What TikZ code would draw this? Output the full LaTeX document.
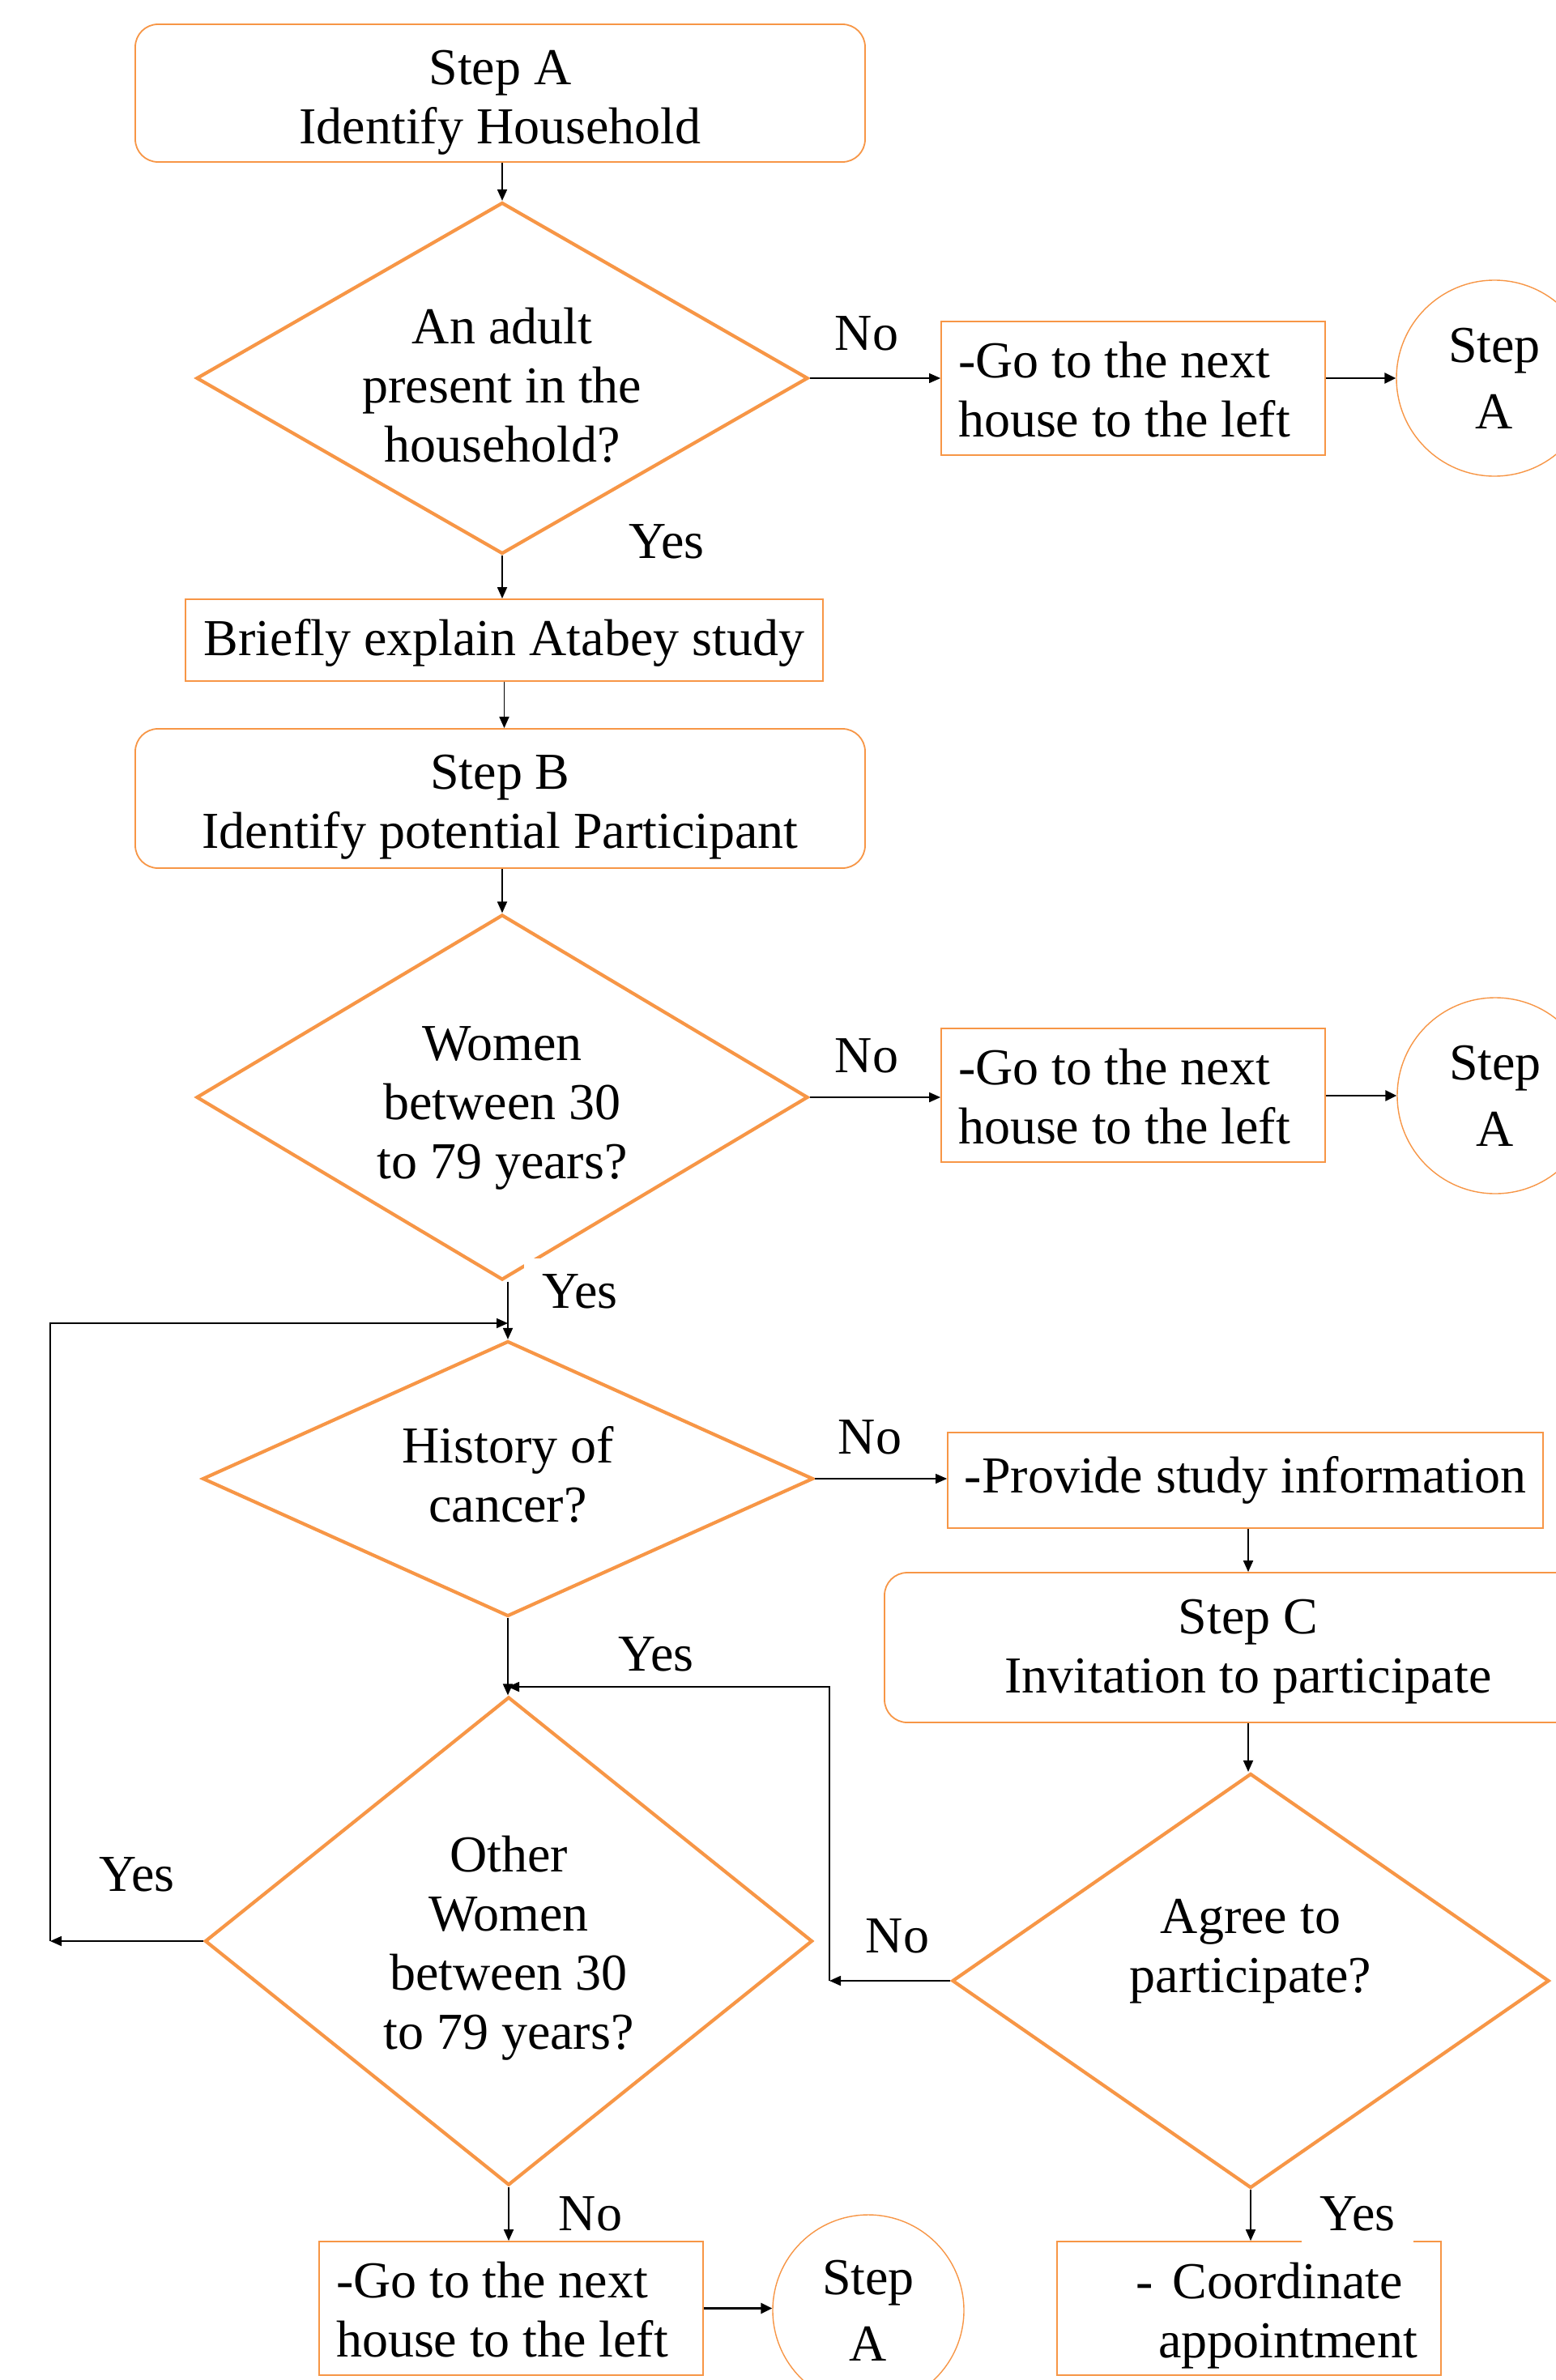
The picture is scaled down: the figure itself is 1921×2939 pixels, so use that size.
\documentclass[tikz,border=0pt]{standalone}
\usepackage{fontspec}
\setmainfont{Liberation Serif}
\usetikzlibrary{shapes.geometric,arrows.meta}
\definecolor{org}{HTML}{F79646}
\newlength{\gospace}
\setlength{\gospace}{7.9pt}
\newcommand{\topst}[1]{\rule{0pt}{#1}}
\newcommand{\botst}[1]{\rule[-#1]{0pt}{#1}}
\tikzset{
  txt/.style={font=\fontsize{32}{36.5}\selectfont, align=center},
  rbox/.style={txt, draw=org, line width=0.9pt, rounded corners=14pt, inner sep=0pt},
  sbox/.style={txt, draw=org, line width=0.9pt, inner sep=0pt},
  gobox/.style={sbox, align=left, text width=216pt, inner xsep=10.5pt, inner ysep=0pt, minimum width=237pt, minimum height=82.5pt, execute at begin node={\spaceskip=\gospace\relax\rule{0pt}{24pt}}},
  dia/.style={txt, diamond, draw=org, line width=2.1pt, inner sep=0pt},
  circ/.style={font=\fontsize{32}{41}\selectfont, align=center, circle, draw=org, line width=0.7pt, inner sep=0pt},
  conn/.style={line width=0.9pt, -{Triangle[length=7pt,width=6pt]}},
  thinconn/.style={line width=0.6pt, -{Triangle[length=7pt,width=6pt]}},
  bigconn/.style={line width=1.4pt, -{Triangle[length=7pt,width=6.5pt]}},
  lab/.style={font=\fontsize{32}{36.5}\selectfont, inner sep=0pt},
  wlab/.style={lab, fill=white, inner xsep=11pt, inner ysep=10pt}
}
\begin{document}
\begin{tikzpicture}[x=0.5pt,y=-0.5pt]
\useasboundingbox (0,0) rectangle (1921,2939);
\clip (0,0) rectangle (1921,2939);
\fill[white] (0,0) rectangle (1921,2939);

% nodes
\node[rbox, minimum width=450.5pt, minimum height=85pt] (sA) at (617.5,115) {\topst{33.2pt}Step A\\Identify Household};
\node[dia, aspect=1.74, minimum width=377.5pt, minimum height=217pt] (d1) at (620,467) {\topst{31.4pt}An adult\\present in the\\household?};
\node[gobox] (g1) at (1399,479.5) {-Go to the next\\house to the left};
\node[circ, minimum size=121pt] (c1) at (1845,467) {Step\\A};
\node[sbox, minimum width=393.5pt, minimum height=50.5pt] (br) at (622.5,790.5) {\topst{25.8pt}Briefly explain Atabey study};
\node[rbox, minimum width=450.5pt, minimum height=86pt] (sB) at (617.5,986) {\topst{31.4pt}Step B\\Identify potential Participant};
\node[dia, aspect=1.674, minimum width=377.5pt, minimum height=225.5pt] (d2) at (620,1355) {\topst{34.2pt}Women\\between 30\\to 79 years?};
\node[gobox] (g2) at (1399,1352.5) {-Go to the next\\house to the left};
\node[circ, minimum size=121pt] (c2) at (1846,1353) {Step\\A};
\node[dia, aspect=2.22, minimum width=377pt, minimum height=170pt] (d3) at (627,1826) {History of\\cancer?\botst{5.6pt}};
\node[sbox, minimum width=367.5pt, minimum height=59pt] (pr) at (1537.5,1828) {-Provide study information};
\node[rbox, minimum width=449pt, minimum height=92.5pt] (sC) at (1541,2034.5) {\topst{26.6pt}Step C\\Invitation to participate};
\node[dia, minimum width=368.5pt, minimum height=256pt] (d5) at (1544,2446) {};
\node[txt] (d5t) at (1544,2409.5) {Agree to\\participate?};
\node[dia, aspect=1.24, minimum width=375pt, minimum height=301.5pt] (d4) at (628,2397) {\topst{31.3pt}Other\\Women\\between 30\\to 79 years?};
\node[gobox, inner xsep=10pt, text width=216pt] (g3) at (631,2850.5) {-Go to the next\\house to the left};
\node[circ, minimum size=118pt] (c3) at (1072,2853) {Step\\A};
\node[sbox, minimum width=237pt, minimum height=82.5pt] (co) at (1542,2850.5) {};
\node[txt] (cot) at (1590,2860) {\llap{-\hspace{12pt}}Coordinate\\appointment};

\coordinate (n5) at (1024,2446);
\coordinate (m5) at (627,2083);
\coordinate (L2) at (62,2397);
\coordinate (L1) at (627,1634);

% connectors
\draw[conn] (sA.south -| d1.north) -- (d1.north);
\draw[thinconn] (d1.east) -- (d1.east -| g1.west);
\draw[bigconn] (g1.east |- c1.west) -- (c1.west);
\draw[conn] (d1.south) -- (d1.south |- br.north);
\draw[conn] (br.south) -- (br.south |- sB.north);
\draw[conn] (sB.south -| d2.north) -- (d2.north);
\draw[conn] (d2.east) -- (d2.east -| g2.west);
\draw[bigconn] (g2.east |- c2.west) -- (c2.west);
\draw[conn] (d3.north |- d2.south) -- (d3.north);
\draw[thinconn] (d3.east) -- (d3.east -| pr.west);
\draw[conn] (sC.north |- pr.south) -- (sC.north);
\draw[conn] (sC.south) -- (sC.south |- d5.north);
\draw[conn] (d3.south) -- (d3.south |- d4.north);
\draw[conn] (d5.west) -- (d5.west -| n5);
\draw[conn] (n5) |- (m5);
\draw[conn] (d4.west) -- (d4.west -| L2);
\draw[conn] (L2) |- (L1);
\draw[conn] (d4.south) -- (d4.south |- g3.north);
\draw[bigconn] (g3.east) -- (g3.east -| c3.west);
\draw[conn] (d5.south) -- (d5.south |- co.north);

% labels
\node[lab] (l1) at (1070,412) {No};
\node[lab] (l2) at (823,669) {Yes};
\node[lab] (l3) at (1070,1304) {No};
\node[wlab] (l4) at (716,1595) {Yes};
\node[lab] (l5) at (1074,1775) {No};
\node[lab] (l6) at (810,2043) {Yes};
\node[lab] (l7) at (169,2315) {Yes};
\node[lab] (l8) at (1108,2391) {No};
\node[lab] (l9) at (729,2734) {No};
\node[wlab] (l10) at (1676,2734) {Yes};
\end{tikzpicture}
\end{document}
